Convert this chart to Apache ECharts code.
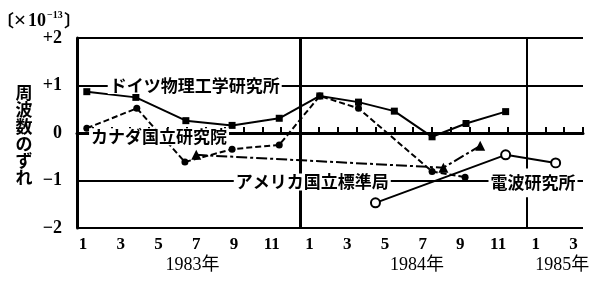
<!DOCTYPE html>
<html><head><meta charset="utf-8">
<script src="https://cdn.jsdelivr.net/npm/echarts@6/dist/echarts.min.js"></script>
<style>html,body{margin:0;padding:0;background:#fff}#c{width:600px;height:289px}</style>
</head><body><div id="c"></div>
<script>
// x = month index counted from January 1983 (=1)
const germanyX = [1.2, 3.8, 6.45, 8.9, 11.4, 13.55, 15.6, 17.5, 19.5, 21.3, 23.4];
const germanyY = [0.87, 0.75, 0.26, 0.16, 0.31, 0.78, 0.65, 0.46, -0.08, 0.2, 0.45];
const canadaX = [1.2, 3.85, 6.4, 8.9, 11.4, 13.55, 15.6, 19.5, 21.25];
const canadaY = [0.1, 0.52, -0.61, -0.34, -0.25, 0.78, 0.52, -0.81, -0.93];
const nbsX = [7.0, 20.1, 22.05];
const nbsY = [-0.46, -0.73, -0.27];
const rrlX = [16.5, 23.4, 26.05];
const rrlY = [-1.47, -0.46, -0.63];

const monthLabelValues = [1,3,5,7,9,11,13,15,17,19,21,23,25,27];
const monthTickValues = [1.5,2.5,3.5,4.5,5.5,6.5,7.5,8.5,9.5,10.5,11.5,12.5,13.5,14.5,15.5,16.5,17.5,18.5,19.5,20.5,21.5,22.5,23.5,24.5,25.5,26.5,27.5];
const yearDividers = [12.5, 24.5];
const yearLabels = ['1983年', '1984年', '1985年'];
const yearLabelPos = [6.8, 18.7, 26.4];
const yTickLabels = {'-2': '−2', '-1': '−1', '0': '0', '1': '+1', '2': '+2'};

const seriesNames = ['ドイツ物理工学研究所', 'カナダ国立研究院', 'アメリカ国立標準局', '電波研究所'];
const seriesNamePos = [[6.92, 1.0], [5.03, -0.08], [13.15, -1.03], [24.85, -1.05]];
const yAxisTitle = '周波数のずれ';
const unitParts = ['〔', '×', '10', '−13', '〕'];

const zip = (xs, ys) => xs.map((x, i) => [x, ys[i]]);
const chart = echarts.init(document.getElementById('c'), null, {renderer: 'canvas'});
const serifFont = '"Liberation Serif", "Noto Sans CJK JP", serif';
const cjkFont = '"Noto Sans CJK JP", sans-serif';

chart.setOption({
  animation: false,
  backgroundColor: '#fff',
  grid: {left: 77, right: 17, top: 38, bottom: 61, containLabel: false},
  xAxis: {
    type: 'value', min: 0.68, max: 27.5,
    axisLine: {show: true, lineStyle: {color: '#000', width: 3}},
    axisTick: {show: true, inside: true, length: 6, customValues: monthTickValues, lineStyle: {color: '#000', width: 2}},
    axisLabel: {show: true, customValues: monthLabelValues, margin: 8,
      formatter: v => String(((Math.round(v) - 1) % 12) + 1),
      color: '#000', fontFamily: serifFont, fontWeight: 'bold', fontSize: 17},
    splitLine: {show: false}
  },
  yAxis: {
    type: 'value', min: -2, max: 2, interval: 1,
    axisLine: {show: true, lineStyle: {color: '#000', width: 3}},
    axisTick: {show: false},
    axisLabel: {margin: 15, formatter: v => yTickLabels[String(v)], color: '#000',
      fontFamily: serifFont, fontWeight: 'bold', fontSize: 18},
    splitLine: {show: true, lineStyle: {color: '#000', width: 2}}
  },
  series: [
    {type: 'line', name: seriesNames[0], data: zip(germanyX, germanyY),
      symbol: 'rect', symbolSize: 7, itemStyle: {color: '#000'},
      lineStyle: {color: '#000', width: 2, type: 'solid'},
      markLine: {silent: true, symbol: 'none', label: {show: false},
        data: [
          {xAxis: yearDividers[0], lineStyle: {color: '#000', width: 3, type: 'solid'}},
          {xAxis: yearDividers[1], lineStyle: {color: '#000', width: 2, type: 'solid'}}
        ]}},
    {type: 'line', name: seriesNames[1], data: zip(canadaX, canadaY),
      symbol: 'circle', symbolSize: 7, itemStyle: {color: '#000'},
      lineStyle: {color: '#000', width: 2, type: [6, 3]}},
    {type: 'line', name: seriesNames[2], data: zip(nbsX, nbsY),
      symbol: 'triangle', symbolSize: 10, itemStyle: {color: '#000'},
      lineStyle: {color: '#000', width: 2, type: [11, 3, 3, 3]}},
    {type: 'line', name: seriesNames[3], data: zip(rrlX, rrlY),
      symbol: 'circle', symbolSize: 9, itemStyle: {color: '#fff', borderColor: '#000', borderWidth: 2},
      lineStyle: {color: '#000', width: 2, type: 'solid'}}
  ]
});

const px = (m, v) => chart.convertToPixel({gridIndex: 0}, [m, v]);
const graphics = [];
const txt = (text, x, y, font, align, extra) => Object.assign({type: 'text', x: x, y: y, z: 100,
  style: Object.assign({text: text, font: font, fill: '#000', align: align, verticalAlign: 'middle',
    textAlign: align, textVerticalAlign: 'middle'}, extra || {})});
seriesNames.forEach((name, i) => {
  const p = px(seriesNamePos[i][0], seriesNamePos[i][1]);
  graphics.push(txt(name, p[0], p[1], 'bold 17px ' + cjkFont, 'center',
    {backgroundColor: '#fff', padding: i === 3 ? [6, 2] : [0, 2]}));
});
yearLabels.forEach((t, i) => {
  const p = px(yearLabelPos[i], -2.78);
  graphics.push(txt(t, p[0], p[1], '18px ' + serifFont, 'center'));
});
graphics.push(txt(yAxisTitle.split('').join('\n'), 24, 135, 'bold 17px ' + cjkFont, 'center', {lineHeight: 17}));
graphics.push(txt(unitParts[0], 14, 21, 'bold 17px ' + cjkFont, 'right'));
graphics.push(txt(unitParts[1], 20, 21, 'bold 22px ' + serifFont, 'center'));
graphics.push(txt(unitParts[2], 28, 21, 'bold 18px ' + serifFont, 'left'));
graphics.push(txt(unitParts[3], 47, 15, 'bold 10px ' + serifFont, 'left'));
graphics.push(txt(unitParts[4], 64, 21, 'bold 17px ' + cjkFont, 'left'));
chart.setOption({graphic: graphics});
</script></body></html>
